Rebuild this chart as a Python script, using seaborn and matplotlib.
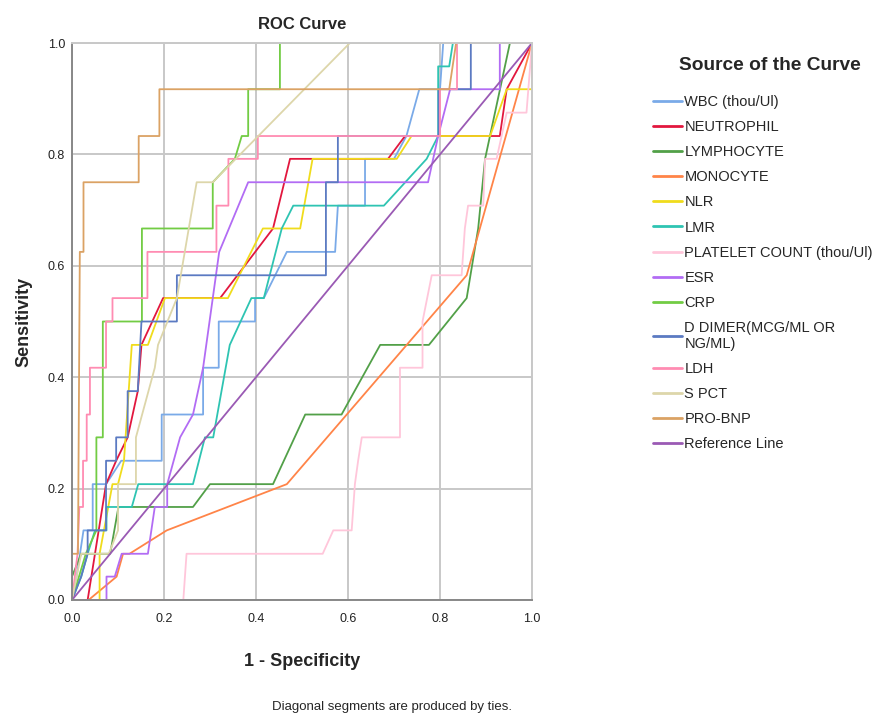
import matplotlib
matplotlib.use("Agg")
import matplotlib.pyplot as plt
import seaborn as sns
import pandas as pd

# ---------------- data ----------------
curve_names = ["WBC (thou/Ul)", "NEUTROPHIL", "LYMPHOCYTE", "MONOCYTE", "NLR", "LMR",
               "PLATELET COUNT (thou/Ul)", "ESR", "CRP", "D DIMER(MCG/ML OR\nNG/ML)",
               "LDH", "S PCT", "PRO-BNP", "Reference Line"]

wbc_x = [0, 0.01, 0.025, 0.045, 0.045, 0.074, 0.107, 0.195, 0.195, 0.285, 0.285, 0.319, 0.319,
         0.398, 0.398, 0.417, 0.467, 0.572, 0.578, 0.637, 0.637, 0.70, 0.727, 0.755, 0.80, 0.807, 1]
wbc_y = [0, 0.042, 0.125, 0.125, 0.208, 0.208, 0.25, 0.25, 0.333, 0.333, 0.417, 0.417, 0.5,
         0.5, 0.542, 0.542, 0.625, 0.625, 0.708, 0.708, 0.792, 0.792, 0.833, 0.917, 0.917, 1, 1]

neut_x = [0, 0.034, 0.074, 0.096, 0.121, 0.143, 0.151, 0.198, 0.322, 0.437, 0.474, 0.687,
          0.724, 0.93, 0.945, 1]
neut_y = [0, 0, 0.208, 0.25, 0.292, 0.375, 0.458, 0.542, 0.542, 0.667, 0.792, 0.792,
          0.833, 0.833, 0.917, 1]

lymph_x = [0, 0, 0.02, 0.083, 0.101, 0.263, 0.30, 0.437, 0.507, 0.586, 0.67, 0.776, 0.858,
           0.883, 0.898, 0.952, 1]
lymph_y = [0, 0.042, 0.083, 0.083, 0.167, 0.167, 0.208, 0.208, 0.333, 0.333, 0.458, 0.458,
           0.542, 0.667, 0.792, 1, 1]

mono_x = [0, 0.036, 0.097, 0.111, 0.125, 0.206, 0.467, 0.858, 1]
mono_y = [0, 0, 0.042, 0.083, 0.083, 0.125, 0.208, 0.583, 1]

nlr_x = [0, 0.06, 0.06, 0.088, 0.10, 0.113, 0.13, 0.165, 0.202, 0.339, 0.415, 0.496, 0.523,
         0.706, 0.738, 0.909, 0.945, 1, 1]
nlr_y = [0, 0, 0.083, 0.208, 0.208, 0.25, 0.458, 0.458, 0.542, 0.542, 0.667, 0.667, 0.792,
         0.792, 0.833, 0.833, 0.917, 0.917, 1]

lmr_x = [0, 0.02, 0.034, 0.05, 0.075, 0.075, 0.13, 0.144, 0.263, 0.289, 0.307, 0.325, 0.343,
         0.39, 0.417, 0.456, 0.481, 0.678, 0.771, 0.796, 0.796, 0.82, 0.828, 1]
lmr_y = [0, 0.042, 0.083, 0.125, 0.125, 0.167, 0.167, 0.208, 0.208, 0.292, 0.292, 0.375, 0.458,
         0.542, 0.542, 0.667, 0.708, 0.708, 0.792, 0.833, 0.958, 0.958, 1, 1]

plt_x = [0, 0.242, 0.249, 0.545, 0.568, 0.608, 0.615, 0.622, 0.63, 0.713, 0.713, 0.762, 0.762,
         0.782, 0.847, 0.854, 0.861, 0.894, 0.898, 0.923, 0.945, 0.988, 1]
plt_y = [0, 0, 0.083, 0.083, 0.125, 0.125, 0.208, 0.25, 0.292, 0.292, 0.417, 0.417, 0.5,
         0.583, 0.583, 0.667, 0.708, 0.708, 0.792, 0.792, 0.875, 0.875, 1]

esr_x = [0, 0.075, 0.075, 0.093, 0.108, 0.165, 0.18, 0.207, 0.207, 0.235, 0.263, 0.285, 0.32,
         0.383, 0.774, 0.796, 0.822, 0.93, 0.93, 1]
esr_y = [0, 0, 0.042, 0.042, 0.083, 0.083, 0.167, 0.167, 0.208, 0.292, 0.333, 0.417, 0.625,
         0.75, 0.75, 0.833, 0.917, 0.917, 1, 1]

crp_x = [0, 0.03, 0.053, 0.053, 0.067, 0.067, 0.152, 0.152, 0.306, 0.306, 0.354, 0.369, 0.383,
         0.383, 0.452, 0.452, 1]
crp_y = [0, 0.083, 0.125, 0.292, 0.292, 0.5, 0.5, 0.667, 0.667, 0.75, 0.792, 0.833, 0.833,
         0.917, 0.917, 1, 1]

ddim_x = [0, 0.02, 0.034, 0.034, 0.074, 0.074, 0.096, 0.096, 0.121, 0.121, 0.143, 0.151, 0.228,
          0.228, 0.552, 0.552, 0.578, 0.578, 0.797, 0.797, 0.867, 0.867, 1]
ddim_y = [0, 0.042, 0.083, 0.125, 0.125, 0.25, 0.25, 0.292, 0.292, 0.375, 0.375, 0.5, 0.5,
          0.583, 0.583, 0.75, 0.75, 0.833, 0.833, 0.917, 0.917, 1, 1]

ldh_x = [0, 0.012, 0.016, 0.024, 0.024, 0.032, 0.032, 0.039, 0.039, 0.074, 0.074, 0.088, 0.088,
         0.164, 0.164, 0.314, 0.314, 0.34, 0.34, 0.404, 0.404, 0.80, 0.80, 0.837, 0.837, 1]
ldh_y = [0, 0.083, 0.167, 0.167, 0.25, 0.25, 0.333, 0.333, 0.417, 0.417, 0.5, 0.5, 0.542,
         0.542, 0.625, 0.625, 0.708, 0.708, 0.792, 0.792, 0.833, 0.833, 0.917, 0.917, 1, 1]

spct_x = [0, 0.02, 0.08, 0.10, 0.10, 0.139, 0.139, 0.18, 0.187, 0.228, 0.271, 0.306, 0.604, 1]
spct_y = [0, 0.083, 0.083, 0.125, 0.208, 0.208, 0.292, 0.417, 0.458, 0.542, 0.75, 0.75, 1, 1]

bnp_x = [0, 0, 0.013, 0.017, 0.025, 0.025, 0.145, 0.145, 0.19, 0.19, 0.82, 0.835, 1]
bnp_y = [0, 0.083, 0.083, 0.625, 0.625, 0.75, 0.75, 0.833, 0.833, 0.917, 0.917, 1, 1]

ref_x = [0, 1]
ref_y = [0, 1]

curve_x = [wbc_x, neut_x, lymph_x, mono_x, nlr_x, lmr_x, plt_x, esr_x, crp_x, ddim_x,
           ldh_x, spct_x, bnp_x, ref_x]
curve_y = [wbc_y, neut_y, lymph_y, mono_y, nlr_y, lmr_y, plt_y, esr_y, crp_y, ddim_y,
           ldh_y, spct_y, bnp_y, ref_y]

colors = ["#7aaae8", "#e2173e", "#52a048", "#ff8448", "#f0dc1c", "#2ec4b2", "#ffc6da",
          "#b26cf4", "#72cc44", "#5b7ac2", "#ff8cb2", "#ddd6aa", "#dba264", "#9a5ab4"]

ticks = [0.0, 0.2, 0.4, 0.6, 0.8, 1.0]
tick_labels = ["0.0", "0.2", "0.4", "0.6", "0.8", "1.0"]

# ---------------- build table ----------------
rows = []
for name, xs, ys in zip(curve_names, curve_x, curve_y):
    for i, (a, b) in enumerate(zip(xs, ys)):
        rows.append({"fpr": a, "tpr": b, "curve": name, "order": i})
df = pd.DataFrame(rows)

sns.set_theme(style="white")
plt.rcParams["font.family"] = ["Liberation Sans", "DejaVu Sans"]

fig = plt.figure(figsize=(8.86, 7.18), dpi=100)
ax = fig.add_axes([72 / 886, 1 - 600 / 718, 460 / 886, 557 / 718])

sns.lineplot(data=df, x="fpr", y="tpr", hue="curve", hue_order=curve_names,
             palette=dict(zip(curve_names, colors)), sort=False, estimator=None,
             units="curve", linewidth=1.3, ax=ax, legend=True)

ax.set_xlim(0, 1)
ax.set_ylim(0, 1)
ax.set_xticks(ticks)
ax.set_yticks(ticks)
ax.set_xticklabels(tick_labels, fontsize=9)
ax.set_yticklabels(tick_labels, fontsize=9)
ax.tick_params(axis="x", length=0, pad=9, colors="#222222")
ax.tick_params(axis="y", length=0, pad=5, colors="#222222")
ax.grid(True, color="#c8c8c8", linewidth=1.4)
ax.set_axisbelow(True)
for side in ["top", "right"]:
    ax.spines[side].set_color("#c8c8c8")
    ax.spines[side].set_linewidth(1.4)
for side in ["left", "bottom"]:
    ax.spines[side].set_color("#888888")
    ax.spines[side].set_linewidth(1.4)

ax.set_xlabel("1 - Specificity", fontsize=13, fontweight="bold")
ax.set_ylabel("Sensitivity", fontsize=13, fontweight="bold")
ax.xaxis.set_label_coords(0.5, (600 - 662) / 557, transform=ax.transAxes)
ax.yaxis.set_label_coords((24 - 72) / 460, 0.5, transform=ax.transAxes)
ax.xaxis.label.set_va("center")
ax.yaxis.label.set_va("center")
ax.set_title("ROC Curve", fontsize=12, fontweight="bold", pad=10)

handles, labels = ax.get_legend_handles_labels()
ax.get_legend().remove()
for h in handles:
    h.set_linewidth(2.0)
fig.text(770 / 886, 1 - 66 / 718, "Source of the Curve", ha="center", va="center",
         fontsize=13.8, fontweight="bold")
leg = fig.legend(handles, labels, loc="upper left", bbox_to_anchor=(640 / 886, 1 - 82 / 718),
                 frameon=False, fontsize=10.5,
                 handlelength=2.0, handletextpad=0.15, labelspacing=0.76)

fig.text(392 / 886, 1 - 707 / 718, "Diagonal segments are produced by ties.",
         ha="center", va="center", fontsize=9.5)

fig.savefig("out.png", dpi=100)
